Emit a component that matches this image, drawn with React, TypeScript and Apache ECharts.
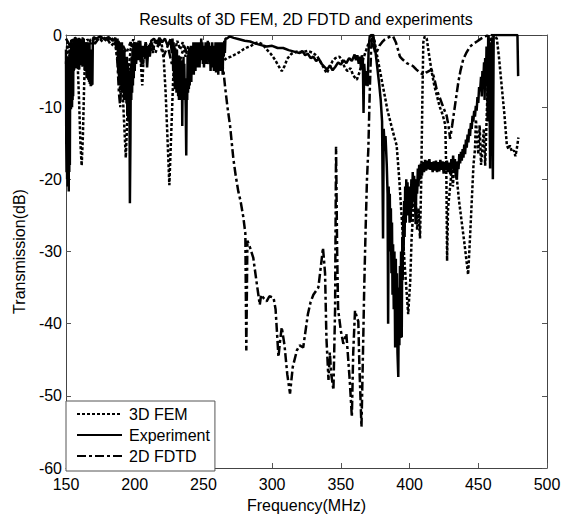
import React, { useEffect, useRef } from "react";
import * as echarts from "echarts";

const titleText = "Results of 3D FEM, 2D FDTD and experiments";
const xName = "Frequency(MHz)";
const yName = "Transmission(dB)";
const seriesNames = ["3D FEM", "Experiment", "2D FDTD"];
const xMin = 150, xMax = 500, xStep = 50;
const yMin = -60, yMax = 0, yStep = 10;

// [frequency MHz, transmission dB]
const fem3d: [number, number][] = [
  [150,-4],[151,-1],[152.5,-3],[154,-0.5],[156,-2],[157.5,-0.8],[158.5,-4],[159.5,-9],[160.5,-15],[161.4,-18.1],[162.3,-14],[163.2,-7],[164,-2],[165.5,-0.6],[168,-1.2],[171,-0.4],[174,-0.8],[177,-0.3],[180,-0.7],[183,-0.3],[186,-1.5],[188,-4],[189.5,-8],[190.5,-3],[191.5,-9],[192.5,-13],[193.5,-17],[194.5,-12],[195.5,-5],[197,-2],[199,-0.6],[201,-2],[203,-0.8],[204.5,-4],[205.5,-7],[206.5,-3],[208,-1],[210,-3],[211.5,-1],[213,-2.5],[215,-0.6],[217,-1.5],[219,-0.5],[221,-3],[222.5,-8],[224,-15],[225.2,-20.8],[226.5,-14],[228,-6],[229.5,-2],[231,-0.8],[233,-2],[235,-1],[237,-3],[239,-1.5],[241,-4],[243,-2],[245,-3.5],[247,-1.2],[249,-3],[251,-1.8],[253,-4],[255,-2.5],[257,-3.5],[259,-2],[261,-4],[263,-3],[265,-3.5],[267,-3.2],[270,-3],[273,-2.7],[276,-2.4],[279,-2],[282,-1.7],[284,-1.6],[287,-1.2],[290,-1],[293,-1.3],[296,-2],[299,-2.6],[302,-3.4],[305,-4.4],[307,-5],[309,-4.3],[311,-3.3],[314,-2.6],[318,-2.3],[322,-2.4],[326,-2.2],[330,-2.5],[333,-3],[336,-4],[339.7,-5.3],[342,-4.4],[344,-3.6],[346,-3.2],[349,-3],[351,-3.6],[353,-4.6],[355,-5],[357,-4.6],[359,-5.6],[361.6,-6.2],[363.5,-5.2],[365.5,-3.8],[367.5,-2.6],[369.5,-1.5],[371.5,-0.6],[373,-0.2],[374.5,-0.8],[376,-2.5],[378,-4.5],[380,-6.5],[382,-8.5],[384,-10.5],[386,-12],[388,-13.5],[390.6,-15.3],[392.5,-20],[394.5,-26],[396.5,-32],[398,-36],[399,-38.7],[400.5,-34],[401.5,-28],[402.5,-25],[403.5,-20],[404.5,-23],[405.5,-27],[406.5,-24],[407.6,-28.2],[408.5,-20],[409.3,-9],[410,-1],[411,-0.2],[412.5,-0.5],[414,-2.5],[416,-5],[418,-7],[420,-8.5],[422,-10],[424,-11],[426,-12.5],[426.8,-20],[427.3,-31.3],[428,-24],[429,-22],[430,-20],[430.7,-18.1],[431.5,-21],[432.5,-18],[434.4,-19.9],[436,-23],[438,-26],[440,-29],[442.6,-33.2],[444,-28],[445.5,-22],[446.5,-18],[447.6,-15.8],[448.3,-11.7],[449,-14],[450,-16.5],[451,-12.5],[452,-18],[453,-15.8],[454,-13],[455,-18.1],[456,-12],[457,-6],[458,-2],[459,-0.5],[460.8,0],[462,-0.2],[463.5,-0.5],[465,-3],[467,-7],[469,-11],[470.8,-15.3],[472,-15.8],[473,-15.3],[474.5,-16.2],[476,-16],[477,-16.8],[478,-15.8],[479.2,-14.2]
];

const experiment: [number, number][] = [
  [150,-2],[150.2,-15],[150.4,-19],[150.6,-5],[150.8,-20],[151,-3],[151.2,-21],[151.4,-8],[151.6,-20.5],[151.8,-6],[152,-21.7],[152.2,-4],[152.4,-19],[152.6,-2],[152.8,-18],[153,-7],[153.2,-10],[153.4,-3],[153.6,-10.3],[153.8,-1],[154,-9.5],[154.2,-2],[154.4,-10],[154.6,-4],[154.8,-9],[155,-1],[155.2,-8.5],[155.4,-2],[155.6,-5],[155.8,-0.5],[156,-4.8],[156.3,-1],[156.6,-4.5],[156.9,-0.3],[157.2,-4],[157.5,-1.5],[157.8,-4.6],[158.1,-0.5],[158.4,-4],[158.7,-1],[159,-3.5],[159.3,-0.4],[159.6,-4.8],[159.9,-1.2],[160.2,-3.8],[160.5,-0.5],[160.8,-4.2],[161.1,-1],[161.4,-3.6],[161.7,-0.6],[162,-4.4],[162.3,-1.5],[162.6,-4],[162.9,-0.5],[163.2,-3.5],[163.5,-1],[163.8,-5],[164.1,-2],[164.4,-4.6],[164.7,-1],[165,-6],[165.3,-1.5],[165.6,-5.5],[165.9,-1],[166.2,-6.2],[166.5,-2],[166.8,-6.5],[167.1,-1],[167.4,-6.8],[167.7,-2.5],[168,-7.1],[168.3,-3],[168.6,-7],[168.9,-2],[169.2,-6.9],[169.5,-1],[170,-0.3],[172,-0.5],[175,-0.2],[178,-0.6],[181,-0.3],[184,-0.8],[186,-0.4],[187,-2],[187.5,-0.5],[188,-5],[188.3,-0.8],[188.6,-6],[188.9,-1],[189.2,-7],[189.5,-1.5],[189.8,-6.5],[190.1,-2],[190.4,-8],[190.7,-1],[191,-7.5],[191.3,-2.5],[191.6,-6.5],[191.9,-3],[192.2,-9],[192.5,-2],[192.8,-8],[193.1,-3],[193.4,-8.5],[193.7,-4],[194,-9.5],[194.3,-3],[194.6,-11],[194.9,-4],[195.2,-12],[195.5,-5],[195.8,-10],[196.1,-6],[196.5,-23.3],[196.9,-14],[197.2,-4],[197.5,-9],[197.8,-3],[198.1,-8],[198.4,-2],[198.7,-7],[199,-1.5],[199.3,-6],[199.6,-1],[200,-5],[200.5,-1],[201,-4],[202,-1],[203,-3.5],[204,-0.8],[205,-4],[206,-1.5],[207,-3],[208,-1],[209,-4.5],[210,-1.5],[211,-3],[212,-0.8],[214,-0.5],[216,-1.2],[218,-0.4],[220,-1],[222,-0.5],[224,-1.5],[226,-0.6],[227,-2.5],[227.5,-0.5],[228,-5],[228.3,-1],[228.6,-6],[228.9,-1.5],[229.2,-7.5],[229.5,-2],[229.8,-7],[230.1,-3],[230.4,-8],[230.7,-2],[231,-7.5],[231.3,-3],[231.6,-8.5],[231.9,-4],[232.2,-9],[232.5,-3],[232.8,-8],[233.1,-4],[233.4,-8.5],[233.7,-3.5],[234,-9],[234.3,-4],[234.6,-12.6],[234.9,-5],[235.2,-8],[235.5,-3],[235.8,-9],[236.1,-4],[236.4,-8.5],[236.7,-6],[237.1,-10],[237.5,-16.7],[237.9,-6],[238.2,-9],[238.5,-3],[238.8,-8],[239.1,-2.5],[239.4,-7.5],[239.7,-2],[240,-7],[240.3,-3],[240.6,-6],[240.9,-1.5],[241.2,-6.5],[241.5,-2],[241.8,-5.5],[242.1,-1.5],[242.4,-5],[242.7,-1],[243,-5.5],[243.3,-2],[243.6,-4.5],[243.9,-1],[244.2,-5],[244.5,-1.5],[244.8,-4],[245.2,-1],[245.6,-4.5],[246,-1.5],[246.4,-4],[246.8,-1],[247.2,-4.5],[247.6,-1.5],[248,-3.5],[248.4,-0.5],[248.8,-3],[249.2,-1],[249.6,-4],[250,-1.5],[250.4,-4.5],[250.8,-2],[251.2,-3.5],[251.6,-1],[252,-4],[252.4,-1.5],[252.8,-3],[253.2,-0.8],[253.6,-3.5],[254,-1],[254.4,-4],[254.8,-1.5],[255.2,-5],[255.6,-2],[256,-4],[256.4,-1],[256.8,-4.5],[257.2,-2],[257.6,-5],[258,-1.5],[258.4,-4],[258.8,-1],[259.2,-5.2],[259.6,-2],[260,-4],[260.4,-1],[260.8,-5.5],[261.2,-1.5],[261.6,-4.5],[262,-1],[262.4,-5],[262.8,-2],[263.2,-4],[263.6,-1],[264,-5.5],[264.4,-1.5],[264.8,-3],[265.2,-0.8],[265.6,-2.5],[266,-0.5],[267,-0.5],[269,-0.2],[272,-0.4],[276,-0.6],[280,-0.8],[284,-0.9],[288,-1.2],[292,-1.4],[296,-1.6],[300,-1.5],[304,-1.8],[308,-1.8],[312,-2.1],[316,-2.3],[320,-2.5],[322,-2.2],[324,-2.8],[326,-2.6],[328,-3.2],[330,-3.0],[332,-3.6],[334,-3.3],[336,-4.0],[338,-4.4],[340,-4.8],[342,-4.2],[344,-4.9],[346,-4.4],[348,-3.8],[350,-4.1],[352,-3.5],[354,-3.9],[356,-3.2],[358,-3.6],[360,-2.7],[361,-3.5],[362,-2.8],[363,-4],[364,-3],[364.7,-4.8],[365.3,-2.8],[366,-3.5],[366.5,-10.8],[367,-4],[368,-7],[369,-5],[369.5,-7.1],[370.2,-2],[371,-0.2],[372,0],[373.6,0],[375,-2],[376.5,-4.5],[378,-7],[379,-9],[380,-12],[380.7,-28.2],[381.2,-13],[382,-16],[382.5,-14],[383.4,-18],[384,-22],[384.4,-40],[384.8,-21],[385.2,-27],[385.6,-22],[386,-30],[386.4,-24],[386.8,-33],[387.2,-26],[387.6,-36],[388,-29],[388.5,-38],[389,-30],[389.5,-43.3],[390,-31],[390.4,-40],[390.8,-33],[391.2,-44],[391.8,-47.4],[392.2,-35],[392.6,-43],[393,-32],[393.4,-42],[393.8,-30],[394.3,-41.9],[394.7,-28],[395,-34],[395.3,-25],[395.7,-30],[396,-23],[396.4,-28],[396.8,-21],[397.2,-26],[397.6,-20],[398,-24],[398.5,-20.4],[399,-25],[399.5,-21],[400,-26],[400.4,-22],[400.8,-25.9],[401.3,-20],[401.8,-24],[402.3,-19],[402.8,-23],[403.3,-19.5],[403.8,-22],[404.4,-26.2],[405,-20],[405.5,-22],[406,-18.5],[406.5,-21],[407,-18],[407.6,-20],[408.2,-17.8],[409,-19.5],[409.8,-17.6],[410.5,-19],[411.3,-17.3],[412,-18.8],[412.8,-17.4],[413.6,-18.6],[414.4,-17.2],[415.2,-18.7],[416,-17.6],[416.8,-19],[417.6,-17.5],[418.4,-18.8],[419.2,-17.4],[420,-19],[420.8,-17.6],[421.6,-18.9],[422.4,-17.3],[423.2,-18.7],[424,-17.5],[424.8,-19.2],[425.6,-17.6],[426.4,-18.8],[427.2,-17.4],[428,-19],[428.8,-17.7],[429.6,-19.3],[430.4,-17.2],[431.2,-18.5],[431.7,-16.7],[432.3,-18.8],[433,-17.2],[433.7,-19.5],[434.4,-20],[435,-17.5],[435.6,-18.6],[436.2,-16.5],[436.8,-17.8],[437.4,-16.2],[438,-17.4],[438.6,-15.8],[439.2,-17],[439.8,-15.2],[440.4,-16.5],[441,-14.5],[441.6,-15.6],[442.2,-13.8],[442.8,-14.9],[443.4,-13],[444,-14],[444.6,-12.2],[445.2,-13],[445.8,-11.2],[446.4,-12],[447,-10.5],[447.6,-11.3],[448.2,-9.8],[448.8,-10.5],[449.4,-8.6],[450,-9.4],[450.6,-7.2],[451.3,-7.8],[452,-5.8],[452.5,-8.5],[453,-5],[453.7,-6],[454.2,-3.8],[454.6,-9],[455,-3.2],[455.5,-7],[456,-1.6],[456.5,-5],[456.8,-12],[457.2,-0.5],[457.5,0],[458,-4],[458.6,-18.5],[459.1,-1],[459.6,-6],[460,-0.3],[460.6,-20],[461.2,0],[462,0],[470,0],[478.5,0],[479,-5.7]
];

const fdtd2d: [number, number][] = [
  [150,-0.5],[153,-1.5],[156,-0.3],[159,-1],[162,-0.4],[165,-1.8],[168,-0.6],[171,-1.2],[174,-0.4],[177,-1],[180,-0.5],[183,-1.5],[186,-0.8],[187.5,-4],[188.5,-8],[189.5,-10],[190.5,-4],[191.5,-1.5],[194,-2.5],[197,-1],[200,-3],[203,-1.5],[206,-4],[209,-2],[212,-1],[215,-2.5],[218,-1],[221,-3],[224,-1.5],[227,-4],[230,-2],[233,-3.5],[236,-1.5],[239,-3],[242,-2],[245,-4],[248,-2.5],[251,-3.5],[254,-2],[257,-3],[260,-2.5],[262.5,-3.5],[264.5,-4.8],[265.7,-7.1],[267.5,-10],[269.4,-12.6],[271.8,-17.2],[273.5,-19.5],[275.4,-21.7],[277,-23],[279,-25.2],[280.5,-27.5],[281.2,-43.7],[282,-28.5],[284,-29.5],[286.3,-30.9],[288.5,-34],[291,-37.4],[292,-36],[294,-36.5],[296,-36.9],[298,-36.2],[301,-36.4],[302.5,-38],[304.6,-44.6],[306,-42],[307,-40.5],[309,-43],[311,-47],[313,-49.7],[315,-46],[318,-43.7],[320,-43],[322.6,-43.3],[326,-38.7],[328,-37],[330,-36],[333.6,-35],[335.5,-32],[337,-29.5],[338.5,-33],[339.5,-42],[341,-47.8],[342,-44],[343,-47],[344.6,-49.2],[345.8,-38],[346.5,-15.5],[347.3,-30],[348,-38],[350,-41],[351.8,-42.8],[353,-42],[354,-41.4],[355,-44],[356.5,-48],[358,-52.9],[359,-44],[360.3,-38.2],[361.5,-39],[362.7,-39.7],[363.5,-46],[365,-54.3],[366,-45],[367,-35],[368,-27],[369,-20],[370,-15.8],[371,-8],[372,-2],[372.7,-0.3],[373.5,-1.2],[375,-2.5],[376.5,-2.2],[378,-1.5],[380,-1],[382,-0.6],[384,-0.4],[386,-0.2],[388,-0.2],[390,-1],[391.5,-2],[393,-3],[395,-3.4],[398,-3.9],[400,-4.1],[402.5,-4.3],[405,-4.8],[407.5,-5.2],[410,-5.5],[412,-5.2],[414,-5],[416,-4.8],[418,-6],[419.8,-7.6],[422,-8.7],[424.5,-10],[427,-11.2],[428.5,-12.8],[429.5,-14.4],[431,-12.5],[432.5,-10.5],[434,-8.5],[435.5,-6.5],[437,-5],[439,-3.4],[441.5,-2.4],[444,-1.6],[446.5,-1.2],[449,-0.9],[452,-0.5],[455,-0.2],[458,0],[461,0]
];

const FONT = "'Liberation Sans', Arial, Helvetica, sans-serif";

export default function App() {
  const ref = useRef<HTMLDivElement>(null);
  useEffect(() => {
    if (!ref.current) return;
    const chart = echarts.init(ref.current, undefined, { renderer: "svg" });
    const frameAxisX = {
      type: "value", min: xMin, max: xMax, interval: xStep,
      axisLine: { show: true, onZero: false, lineStyle: { color: "#444", width: 1 } },
      axisTick: { show: true, inside: true, length: 5, lineStyle: { color: "#555" } },
      splitLine: { show: false },
    };
    const frameAxisY = {
      type: "value", min: yMin, max: yMax, interval: yStep,
      axisLine: { show: true, onZero: false, lineStyle: { color: "#444", width: 1 } },
      axisTick: { show: true, inside: true, length: 5, lineStyle: { color: "#555" } },
      splitLine: { show: false },
    };
    const lineBase = { type: "line", showSymbol: false, symbol: "none", xAxisIndex: 0, yAxisIndex: 0, clip: true };
    chart.setOption({
      animation: false,
      backgroundColor: "#fff",
      textStyle: { fontFamily: FONT },
      title: {
        text: titleText, left: 306, top: 11, textAlign: "center", padding: 0,
        textStyle: { fontSize: 16, fontWeight: "normal", color: "#000", fontFamily: FONT },
      },
      grid: { left: 66, right: 17, top: 35, bottom: 46, containLabel: false },
      legend: {
        orient: "vertical", left: 66, top: 401,
        padding: [5, 5, 7, 10], itemGap: 5, itemWidth: 45, itemHeight: 16,
        backgroundColor: "#fff", borderColor: "#555", borderWidth: 1, borderRadius: 0,
        itemStyle: { opacity: 0 },
        textStyle: { fontSize: 16, color: "#000", fontFamily: FONT, padding: [0, 0, 0, 2] },
        data: seriesNames,
      },
      xAxis: [
        {
          ...frameAxisX, position: "bottom",
          axisLabel: { show: true, fontSize: 16, color: "#000", margin: 8, fontFamily: FONT },
          name: xName, nameLocation: "middle", nameGap: 29,
          nameTextStyle: { fontSize: 16, color: "#000", fontFamily: FONT },
        },
        { ...frameAxisX, position: "top", axisLabel: { show: false } },
      ],
      yAxis: [
        {
          ...frameAxisY, position: "left",
          axisLabel: { show: true, fontSize: 16, color: "#000", margin: 4, fontFamily: FONT },
          name: yName, nameLocation: "middle", nameGap: 32,
          nameTextStyle: { fontSize: 16, color: "#000", fontFamily: FONT },
        },
        { ...frameAxisY, position: "right", axisLabel: { show: false } },
      ],
      series: [
        { ...lineBase, name: seriesNames[0], data: fem3d, lineStyle: { color: "#000", width: 2.5, type: [3, 2] }, itemStyle: { color: "#000" } },
        { ...lineBase, name: seriesNames[1], data: experiment, lineStyle: { color: "#000", width: 2.5, type: "solid" }, itemStyle: { color: "#000" } },
        { ...lineBase, name: seriesNames[2], data: fdtd2d, lineStyle: { color: "#000", width: 2.5, type: [9, 3, 3, 3] }, itemStyle: { color: "#000" } },
      ],
    });
    return () => chart.dispose();
  }, []);
  return <div ref={ref} style={{ position: "absolute", left: 0, top: 0, width: 564, height: 518 }} />;
}
